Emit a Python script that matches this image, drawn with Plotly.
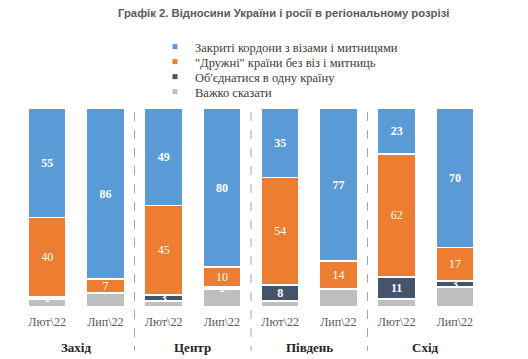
import plotly.graph_objects as go

regions = ["Захід", "Центр", "Південь", "Схід"]
periods = ["Лют\\22", "Лип\\22"]
tick_labels = [p for r in regions for p in periods]

series_names = ["Закриті кордони з візами і митницями",
                "\"Дружні\" країни без віз і митниць",
                "Об'єднатися в одну країну",
                "Важко сказати"]
closed_borders = [55, 86, 49, 80, 35, 77, 23, 70]
friendly = [40, 7, 45, 10, 54, 14, 62, 17]
unite = [1, 0, 3, 1, 8, 0, 11, 3]
hard_to_say = [4, 7, 3, 9, 3, 9, 4, 10]

colors = ["#5B9BD5", "#ED7D31", "#44546A", "#BFBFBF"]
label_bold = [True, False, True, False]
values = [closed_borders, friendly, unite, hard_to_say]
show_labels = [True, True, True, False]

x = list(range(len(tick_labels)))
serif = "Liberation Serif"

# plot area in pixels
T, B, L, R = 108, 52, 18, 44
H = 359
ph = H - T - B


def py(pix):
    return (H - B - pix) / ph


fig = go.Figure()
# stack from the bottom: gray, dark, orange, blue
for i in [3, 2, 1, 0]:
    vals = values[i]
    if show_labels[i]:
        txt = [(("<b>%d</b>" if label_bold[i] else "%d") % v) if v > 0 else "" for v in vals]
    else:
        txt = None
    fig.add_trace(go.Bar(
        x=x, y=vals, name=series_names[i], width=0.65,
        marker=dict(color=colors[i], line=dict(color="white", width=1.5)),
        text=txt, textposition="inside", insidetextanchor="middle", textangle=0,
        textfont=dict(family=serif, size=12, color="white"),
        constraintext="none", showlegend=False, hoverinfo="skip",
    ))

legend_ids = ["legend", "legend2", "legend3", "legend4"]
legend_y = [47, 62, 77, 92]
for i in range(4):
    fig.add_trace(go.Scatter(
        x=[None], y=[None], mode="markers", name=series_names[i],
        marker=dict(symbol="square", size=5, color=colors[i]),
        showlegend=True, legend=legend_ids[i],
    ))

for k in range(1, len(regions)):
    xd = 2 * k - 0.5
    fig.add_shape(type="line", xref="x", yref="paper", x0=xd, x1=xd, y0=py(112), y1=py(351),
                  line=dict(color="#A6A6A6", width=1, dash="dash"))

for k, r in enumerate(regions):
    fig.add_annotation(x=2 * k + 0.5, xref="x", y=py(347), yref="paper", text="<b>%s</b>" % r,
                       showarrow=False, font=dict(family=serif, size=13, color="#262626"),
                       yanchor="middle")

legends = {}
for i, lid in enumerate(legend_ids):
    legends[lid] = dict(x=(155 - L) / (528 - L - R), xanchor="left", y=py(legend_y[i]),
                        yanchor="middle", font=dict(family=serif, size=12.5, color="#404040"),
                        itemwidth=30, bgcolor="rgba(0,0,0,0)", borderwidth=0)

fig.update_layout(
    width=528, height=H,
    margin=dict(l=L, r=R, t=T, b=B),
    paper_bgcolor="white", plot_bgcolor="white",
    barmode="stack",
    uniformtext=dict(minsize=12, mode="show"),
    title=dict(text="<b>Графік 2. Відносини України і росії в регіональному розрізі</b>",
               x=118 / 528, xanchor="left", y=1 - 13 / H, yanchor="middle",
               font=dict(family="Liberation Sans", size=11.3, color="#595959")),
    xaxis=dict(tickmode="array", tickvals=x, ticktext=tick_labels, range=[-0.5, 7.5],
               showgrid=False, zeroline=False, showline=False,
               ticks="outside", ticklen=4, tickcolor="rgba(0,0,0,0)",
               tickfont=dict(family=serif, size=12, color="#595959")),
    yaxis=dict(range=[0, 100], visible=False),
    **legends,
)

fig.write_html("out.html", config={"displayModeBar": False},
               post_script="document.body.style.margin='0';")
